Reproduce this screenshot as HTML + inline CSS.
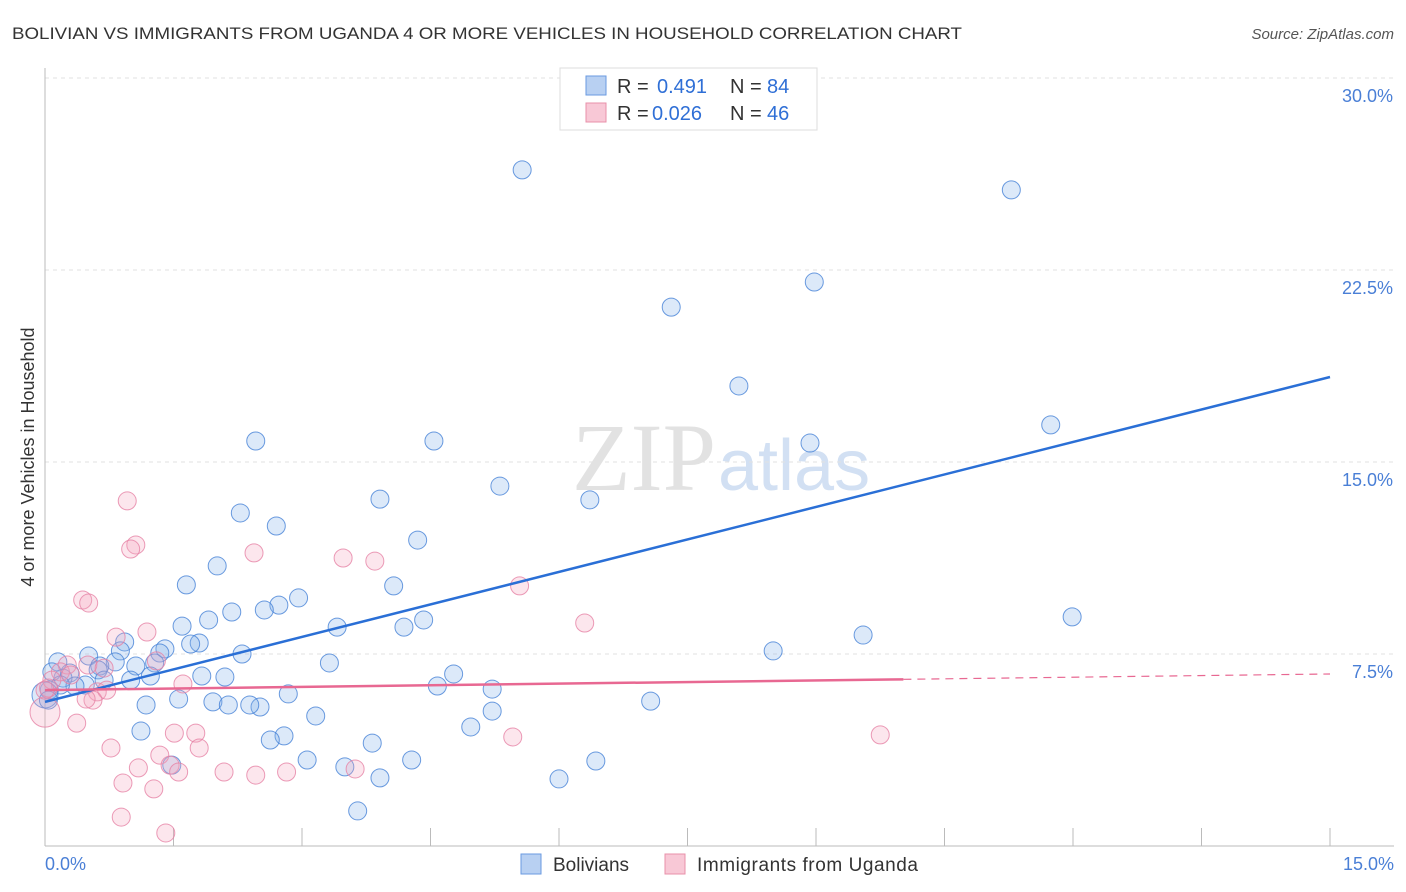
<!DOCTYPE html>
<html><head><meta charset="utf-8"><style>
body{margin:0;background:#fff;font-family:"Liberation Sans",sans-serif}
svg{display:block}
</style></head><body>
<svg id="chart" width="1406" height="892" viewBox="0 0 1406 892" xmlns="http://www.w3.org/2000/svg">
<text x="12" y="39" font-size="17" fill="#333" textLength="950" lengthAdjust="spacingAndGlyphs">BOLIVIAN VS IMMIGRANTS FROM UGANDA 4 OR MORE VEHICLES IN HOUSEHOLD CORRELATION CHART</text>
<text x="1394" y="39" font-size="15" fill="#555" font-style="italic" text-anchor="end">Source: ZipAtlas.com</text>
<text x="716" y="490" font-size="96" font-family="Liberation Serif" fill="#e2e2e2" text-anchor="end">ZIP</text>
<text x="718" y="490" font-size="72" fill="#d2e0f3">atlas</text>
<g id="grid"></g>
<g id="axes"></g>
<g id="pts"></g>
<g id="trend"></g>
<text transform="translate(34,457) rotate(-90)" font-size="18" fill="#333" text-anchor="middle">4 or more Vehicles in Household</text>
<text x="45" y="870" font-size="18" fill="#4a7fd6">0.0%</text>
<text x="1394" y="870" font-size="18" fill="#4a7fd6" text-anchor="end">15.0%</text>
<g>
<rect x="560" y="68" width="257" height="62" fill="#fff" stroke="#ddd"/>
<rect x="586" y="76" width="20" height="19" fill="#b8d0f2" stroke="#6a9ae0"/>
<rect x="586" y="103" width="20" height="19" fill="#f8c8d6" stroke="#e890aa"/>
<text x="617" y="93" font-size="20" fill="#333">R =</text>
<text x="657" y="93" font-size="20" fill="#2f6fd6">0.491</text>
<text x="730" y="93" font-size="20" fill="#333">N =</text>
<text x="767" y="93" font-size="20" fill="#2f6fd6">84</text>
<text x="617" y="120" font-size="20" fill="#333">R =</text>
<text x="652" y="120" font-size="20" fill="#2f6fd6">0.026</text>
<text x="730" y="120" font-size="20" fill="#333">N =</text>
<text x="767" y="120" font-size="20" fill="#2f6fd6">46</text>
</g>
<g>
<rect x="521" y="854" width="20" height="20" fill="#b8d0f2" stroke="#6a9ae0"/>
<text x="553" y="871" font-size="19" fill="#333">Bolivians</text>
<rect x="665" y="854" width="20" height="20" fill="#f8c8d6" stroke="#e890aa"/>
<text x="697" y="871" font-size="19" fill="#333" textLength="221">Immigrants from Uganda</text>
</g>
</svg>
<script>
const yTicks=[7.5,15,22.5,30];
const yTickLabels=["7.5%","15.0%","22.5%","30.0%"];
const xTicks=[1.5,3,4.5,6,7.5,9,10.5,12,13.5,15];
const blueX=[5.57,11.28,8.98,7.31,8.10,11.74,2.46,4.54,8.93,3.91,5.31,6.36,2.28,2.70,4.35,2.01,1.65,4.07,2.96,2.73,2.56,2.18,1.91,1.60,4.42,4.19,3.41,11.99,9.55,1.80,1.70,0.93,1.40,1.34,0.88,2.30,0.51,0.15,0.82,0.64,1.06,1.28,3.32,8.50,4.77,2.10,1.83,1.23,0.29,0.21,0.08,0.62,0.69,1.00,0.47,0.35,0.18,0.05,4.58,5.22,2.84,1.56,1.18,1.96,2.14,2.51,2.39,7.07,5.22,3.16,4.97,1.12,2.79,2.63,3.82,3.06,4.28,6.43,1.48,3.50,3.91,6.00,3.65,0,0.04];
const blueY=[26.41,25.63,22.03,21.05,17.97,16.45,15.82,15.82,15.74,13.55,14.06,13.52,13.01,12.50,11.95,10.94,10.20,10.16,9.69,9.41,9.22,9.14,8.83,8.59,8.83,8.55,8.55,8.95,8.24,7.93,7.89,7.97,7.70,7.54,7.62,7.50,7.42,7.19,7.19,7.03,7.03,7.15,7.15,7.62,6.72,6.60,6.64,6.64,6.76,6.56,6.80,6.88,6.48,6.48,6.29,6.25,6.29,6.09,6.25,6.13,5.94,5.74,5.51,5.63,5.51,5.43,5.51,5.66,5.27,5.08,4.65,4.49,4.30,4.14,4.02,3.36,3.36,3.32,3.16,3.09,2.66,2.62,1.37,5.90,5.70];
const pinkX=[0.96,1.06,1.00,2.44,3.48,3.85,5.54,0.44,0.51,6.30,1.19,0.83,0.26,0.50,1.30,0.69,0.18,0.30,0.61,1.61,0.72,0.56,0.48,0.37,0.77,1.51,1.76,1.80,1.34,1.09,1.46,1.56,2.09,2.46,2.82,3.62,5.46,9.75,0.91,1.27,0.89,1.41,0.04,0,0.08,0];
const pinkY=[13.48,11.76,11.60,11.45,11.25,11.13,10.16,9.61,9.49,8.71,8.36,8.16,7.07,7.07,7.23,6.95,6.80,6.68,6.02,6.33,6.09,5.70,5.74,4.80,3.83,4.41,4.41,3.83,3.55,3.05,3.16,2.89,2.89,2.77,2.89,3.01,4.26,4.34,2.46,2.23,1.13,0.51,6.17,5.23,6.48,6.09];
const blueTrend=[5.63,18.32];
const pinkTrend=[6.09,6.72];
const pinkSolidEnd=10.02;
const NS="http://www.w3.org/2000/svg";
const X=v=>45+v/15*1285, Y=v=>846-v/30*768;
function mk(parent,tag,attrs){const e=document.createElementNS(NS,tag);for(const k in attrs)e.setAttribute(k,attrs[k]);document.getElementById(parent).appendChild(e);return e;}
yTicks.forEach((t,i)=>{
 const l=mk('grid','line',{x1:45,x2:1394,y1:Y(t),y2:Y(t),stroke:'#e2e2e2','stroke-dasharray':'4,4'});
 
 
 const tx=mk('grid','text',{x:1393,y:Y(t)+24,'font-size':18,fill:'#4a7fd6','text-anchor':'end'});
 tx.textContent=yTickLabels[i];
 
 
});
let a=mk('axes','line',{x1:45,x2:45,y1:68,y2:846,stroke:'#bbb'});


a=mk('axes','line',{x1:45,x2:1394,y1:846,y2:846,stroke:'#bbb'});


xTicks.forEach(t=>{
 const l=mk('axes','line',{x1:X(t),x2:X(t),y1:828,y2:846,stroke:'#bbb'});
 
 
});
blueX.forEach((x,i)=>{
 const big=x<0.03;
 const c=mk('pts','circle',{cx:X(x),cy:Y(blueY[i]),r:big?13:9,fill:'rgba(130,175,235,0.28)',stroke:'rgba(70,130,215,0.8)','stroke-width':1});
 
 
});
pinkX.forEach((x,i)=>{
 const big=x===0&&pinkY[i]<5.5;
 const c=mk('pts','circle',{cx:X(x),cy:Y(pinkY[i]),r:big?15:9,fill:'rgba(245,165,190,0.28)',stroke:'rgba(230,130,165,0.8)','stroke-width':1});
 
 
});
let t=mk('trend','line',{x1:X(0),y1:Y(blueTrend[0]),x2:X(15),y2:Y(blueTrend[1]),stroke:'#2a6fd6','stroke-width':2.5});


const pe=pinkTrend[0]+(pinkTrend[1]-pinkTrend[0])*pinkSolidEnd/15;
t=mk('trend','line',{x1:X(0),y1:Y(pinkTrend[0]),x2:X(pinkSolidEnd),y2:Y(pe),stroke:'#e86892','stroke-width':2.5});


t=mk('trend','line',{x1:X(pinkSolidEnd),y1:Y(pe),x2:X(15),y2:Y(pinkTrend[1]),stroke:'#e86892','stroke-width':1.2,'stroke-dasharray':'8,6'});


</script>
</body></html>
